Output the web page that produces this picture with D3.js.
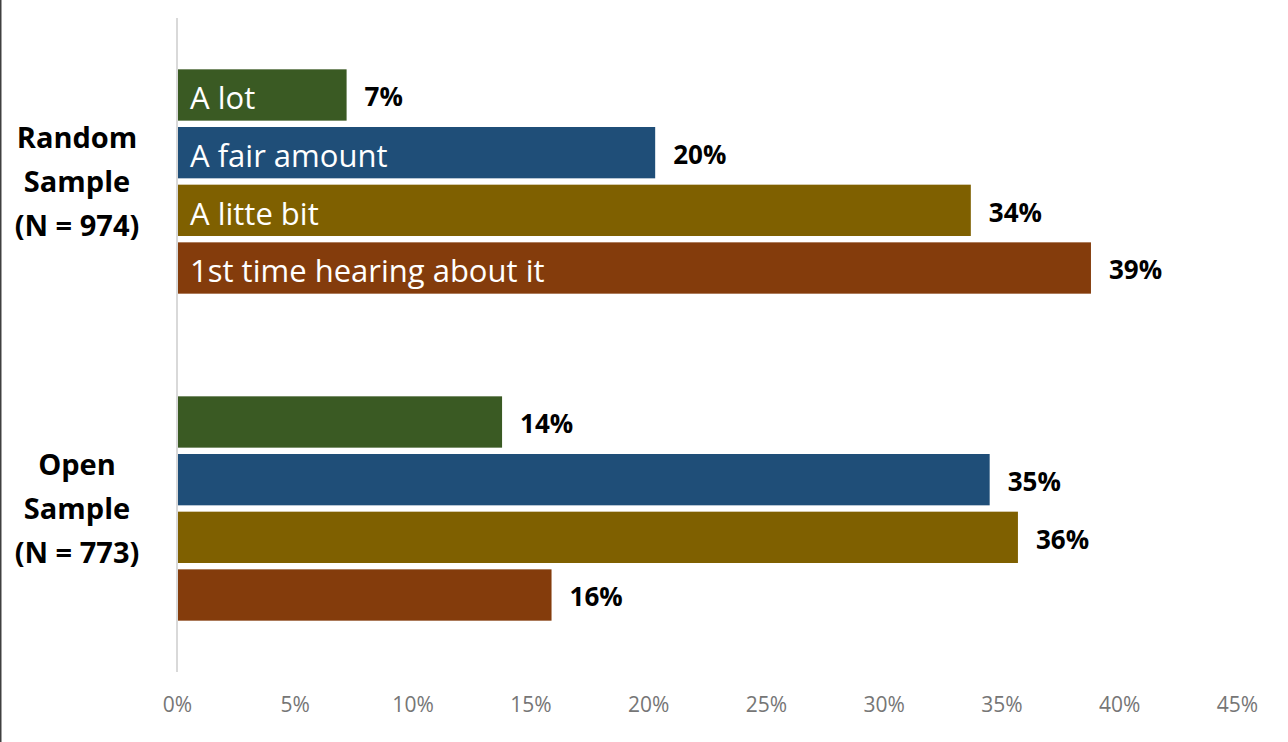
<!DOCTYPE html>
<html>
<head>
<meta charset="utf-8">
<script src="https://cdn.jsdelivr.net/npm/d3@7"></script>
<style>
  html, body { margin: 0; padding: 0; background: #fff; }
  svg { display: block; }
</style>
</head>
<body>
<svg id="chart" width="1288" height="742"></svg>
<script>
// Survey groups and answer levels
const groups = ["Random|Sample|(N = 974)", "Open|Sample|(N = 773)"];
const levels = ["A lot", "A fair amount", "A litte bit", "1st time hearing about it"];
const levelColors = ["#3a5a23", "#1f4e78", "#7f6000", "#843c0c"];

// Share of respondents per level, one array per group
const randomValues = [0.072, 0.203, 0.337, 0.388];
const openValues = [0.138, 0.345, 0.357, 0.159];

// Axis ticks
const tickValues = [0, 0.05, 0.10, 0.15, 0.20, 0.25, 0.30, 0.35, 0.40, 0.45];

const seriesByGroup = [randomValues, openValues];

const svg = d3.select("#chart");
const W = 1288, H = 742;
const margin = { left: 177, right: 51, top: 18, bottom: 70 };
const FONT = "'Open Sans', 'Noto Sans', sans-serif";

// Frame line on the left edge
svg.append("line")
  .attr("x1", 0.75).attr("x2", 0.75)
  .attr("y1", 0).attr("y2", H)
  .attr("stroke", "#404040").attr("stroke-width", 1.5);

const x = d3.scaleLinear()
  .domain([0, 0.45])
  .range([margin.left, W - margin.right]);

const y0 = d3.scaleBand()
  .domain(groups)
  .range([margin.top, H - margin.bottom]);

const y1 = d3.scaleBand()
  .domain(levels)
  .range([0, y0.bandwidth()])
  .paddingInner(0.11)
  .paddingOuter(0.89);

const fmt = d3.format(".0%");

// Bars
groups.forEach((g, gi) => {
  const vals = seriesByGroup[gi];
  const grp = svg.append("g").attr("transform", `translate(0,${y0(g)})`);
  const rows = grp.selectAll("g.row")
    .data(levels.map((lv, i) => ({ level: lv, value: vals[i], i })))
    .join("g").attr("class", "row");

  rows.append("rect")
    .attr("x", x(0) + 1)
    .attr("y", d => y1(d.level))
    .attr("width", d => x(d.value) - x(0) - 1)
    .attr("height", y1.bandwidth())
    .attr("fill", d => levelColors[d.i]);

  // Level names inside the bars of the first group
  if (gi === 0) {
    rows.append("text")
      .attr("x", x(0) + 13)
      .attr("y", d => y1(d.level) + y1.bandwidth() / 2)
      .attr("dy", "0.46em")
      .attr("fill", "#ffffff")
      .style("font-family", FONT)
      .style("font-size", "31px")
      .text(d => d.level);
  }

  // Value labels at bar ends
  rows.append("text")
    .attr("x", d => x(d.value) + 18)
    .attr("y", d => y1(d.level) + y1.bandwidth() / 2)
    .attr("dy", "0.44em")
    .attr("fill", "#000")
    .style("font-family", FONT)
    .style("font-weight", "bold")
    .style("font-size", "26px")
    .text(d => fmt(d.value));
});

// Category labels
groups.forEach(g => {
  const lines = g.split("|");
  const cy = y0(g) + y0.bandwidth() / 2;
  const t = svg.append("text")
    .attr("text-anchor", "middle")
    .style("font-family", FONT)
    .style("font-weight", "bold")
    .style("font-size", "29px")
    .attr("fill", "#000");
  lines.forEach((ln, i) => {
    t.append("tspan")
      .attr("x", 77)
      .attr("y", cy + (i - 1) * 44)
      .attr("dy", "0.36em")
      .text(ln);
  });
});

// Vertical axis line
svg.append("line")
  .attr("x1", x(0)).attr("x2", x(0))
  .attr("y1", margin.top).attr("y2", H - margin.bottom)
  .attr("stroke", "#d9d9d9").attr("stroke-width", 2);

// X axis tick labels
const xAxis = d3.axisBottom(x)
  .tickValues(tickValues)
  .tickFormat(fmt)
  .tickSize(0)
  .tickPadding(0);

const ax = svg.append("g")
  .attr("transform", `translate(0,${H - margin.bottom + 25})`)
  .call(xAxis);
ax.select(".domain").remove();
ax.selectAll("text")
  .attr("fill", "#767676")
  .style("font-family", FONT)
  .style("font-size", "21px");
</script>
</body>
</html>
